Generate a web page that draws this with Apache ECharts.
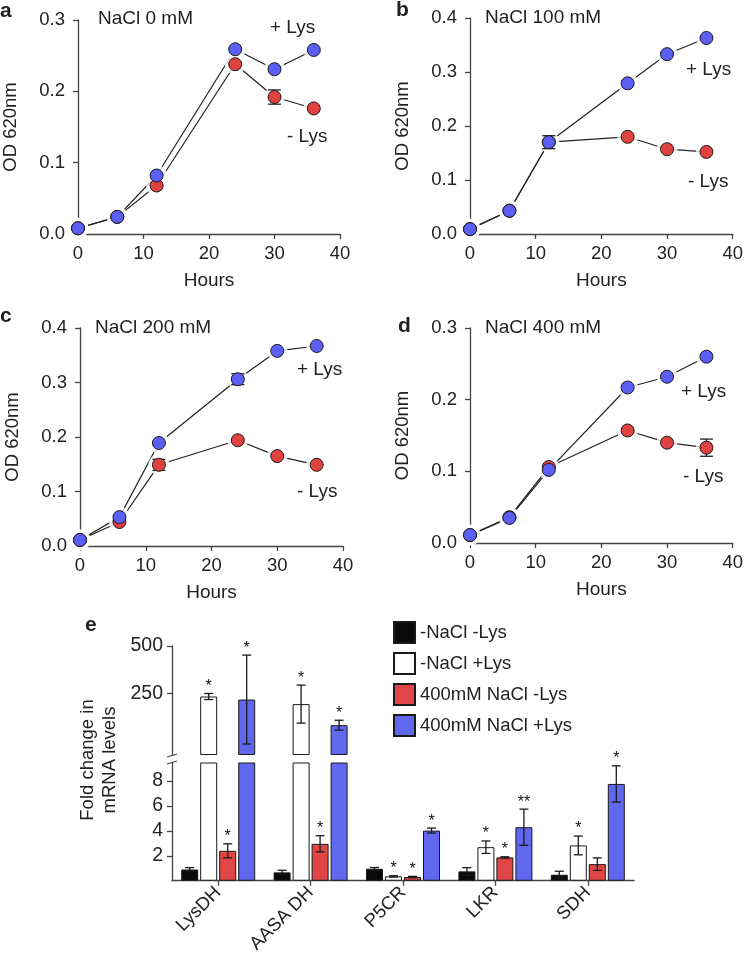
<!DOCTYPE html>
<html><head><meta charset="utf-8">
<script src="https://cdn.jsdelivr.net/npm/echarts@6/dist/echarts.min.js"></script>
<style>html,body{margin:0;padding:0;background:#fff}#c{width:746px;height:956px}</style>
</head><body><div id="c"></div>
<script>
// ---------- DATA ----------
const hours = [0, 6, 12, 24, 30, 36];

const aPlusLys  = [0.008, 0.024, 0.082, 0.259, 0.231, 0.258];
const aMinusLys = [0.008, 0.024, 0.068, 0.238, 0.192, 0.176];
const aPlusErr  = [0, 0, 0, 0, 0, 0];
const aMinusErr = [0, 0, 0, 0, 0.010, 0];

const bPlusLys  = [0.009, 0.043, 0.170, 0.279, 0.333, 0.363];
const bMinusLys = [0.009, 0.043, 0.170, 0.180, 0.157, 0.152];
const bPlusErr  = [0, 0, 0.012, 0, 0, 0];
const bMinusErr = [0, 0, 0, 0, 0, 0];

const cPlusLys  = [0.011, 0.053, 0.189, 0.306, 0.358, 0.367];
const cMinusLys = [0.011, 0.044, 0.149, 0.194, 0.165, 0.149];
const cPlusErr  = [0, 0, 0, 0.010, 0, 0];
const cMinusErr = [0, 0, 0.010, 0, 0, 0];

const dPlusLys  = [0.011, 0.035, 0.102, 0.217, 0.232, 0.260];
const dMinusLys = [0.011, 0.036, 0.106, 0.157, 0.140, 0.133];
const dPlusErr  = [0, 0, 0, 0, 0, 0];
const dMinusErr = [0, 0, 0, 0, 0, 0.012];

const panelTitles = ['NaCl 0 mM', 'NaCl 100 mM', 'NaCl 200 mM', 'NaCl 400 mM'];
const panelYMax = [0.3, 0.4, 0.4, 0.3];

const genes = ['LysDH', 'AASA DH', 'P5CR', 'LKR', 'SDH'];
const barNames = ['-NaCl -Lys', '-NaCl +Lys', '400mM NaCl -Lys', '400mM NaCl +Lys'];
const noSaltNoLys   = [0.90, 0.67, 0.96, 0.75, 0.48];
const noSaltNoLysErr= [0.15, 0.17, 0.10, 0.30, 0.28];
const noSaltLys     = [234, 194, 0.35, 2.69, 2.83];
const noSaltLysErr  = [16, 100, 0.05, 0.50, 0.75];
const saltNoLys     = [2.40, 2.96, 0.30, 1.87, 1.33];
const saltNoLysErr  = [0.56, 0.65, 0.05, 0.05, 0.50];
const saltLys       = [218, 83, 4.02, 4.29, 7.76];
const saltLysErr    = [234, 26, 0.20, 1.45, 1.45];
const barStars = [
  ['', '', '', '', ''],
  ['*', '*', '*', '*', '*'],
  ['*', '*', '*', '*', ''],
  ['*', '*', '*', '**', '*']
];
const lowerTicks = [2, 4, 6, 8];
const upperTicks = [250, 500];

// ---------- STYLE ----------
const FONT = 'Liberation Sans, Arial, Helvetica, sans-serif';
const BLUE = '#5b5ff4', RED = '#e0433f';
const BAR_COLORS = ['#0a0a0a', '#ffffff', '#e04646', '#6068f0'];
const AXIS = '#444', TXT = '#222';
const BAR_W = 17, BAR_GAP = 2;
const LOWER_MAX = 9.44, UPPER_MIN = -74;
const FS = 18.5;

const panels = [
  [aPlusLys, aMinusLys, aPlusErr, aMinusErr],
  [bPlusLys, bMinusLys, bPlusErr, bMinusErr],
  [cPlusLys, cMinusLys, cPlusErr, cMinusErr],
  [dPlusLys, dMinusLys, dPlusErr, dMinusErr]
];
const panelGrids = [
  {left: 77, top: 20, width: 263, height: 214},
  {left: 470, top: 18, width: 263, height: 216},
  {left: 80, top: 328, width: 263, height: 218},
  {left: 470, top: 328, width: 263, height: 215}
];

const grid = panelGrids.concat([
  {left: 172, top: 646, width: 462, height: 109},
  {left: 172, top: 763, width: 462, height: 118}
]);

const xAxis = [], yAxis = [], series = [];
const lbl = {fontFamily: FONT, fontSize: FS, color: TXT};

panels.forEach((p, gi) => {
  xAxis.push({
    type: 'value', gridIndex: gi, min: 0, max: 40, interval: 10,
    name: 'Hours', nameLocation: 'middle', nameGap: 37,
    nameTextStyle: {fontFamily: FONT, fontSize: 19, color: TXT},
    axisLine: {show: true, onZero: false, lineStyle: {color: AXIS, width: 1.3}},
    axisTick: {show: true, length: 5, lineStyle: {color: AXIS, width: 1.3}},
    axisLabel: Object.assign({margin: 10}, lbl),
    splitLine: {show: false}
  });
  yAxis.push({
    type: 'value', gridIndex: gi, min: 0, max: panelYMax[gi], interval: 0.1,
    name: 'OD 620nm', nameLocation: 'middle', nameGap: 58,
    nameTextStyle: {fontFamily: FONT, fontSize: 18.5, color: TXT},
    axisLine: {show: true, lineStyle: {color: AXIS, width: 1.3}},
    axisTick: {show: true, length: 5, lineStyle: {color: AXIS, width: 1.3}},
    axisLabel: Object.assign({margin: 13, formatter: v => v.toFixed(1)}, lbl),
    splitLine: {show: false}
  });
  const [plus, minus, plusErr, minusErr] = p;
  const pts = arr => hours.map((h, i) => [h, arr[i]]);
  const base = {xAxisIndex: gi, yAxisIndex: gi, silent: true, animation: false};
  [plus, minus].forEach(arr => series.push(Object.assign({
    type: 'line', data: pts(arr), symbol: 'none',
    lineStyle: {color: '#222', width: 1.2}, z: 2
  }, base)));
  [minus, plus].forEach(arr => series.push(Object.assign({
    type: 'scatter', data: pts(arr), symbolSize: 21,
    itemStyle: {color: '#fff'}, z: 3
  }, base)));
  const errData = [];
  hours.forEach((h, i) => {
    if (minusErr[i] > 0) errData.push([h, minus[i], minusErr[i]]);
    if (plusErr[i] > 0) errData.push([h, plus[i], plusErr[i]]);
  });
  series.push(Object.assign({
    type: 'custom', data: errData, z: 4,
    renderItem(params, api) {
      const x = api.value(0), y = api.value(1), e = api.value(2);
      const t = api.coord([x, y + e]), b = api.coord([x, y - e]);
      const st = {stroke: '#222', lineWidth: 1.3};
      return {type: 'group', children: [
        {type: 'line', shape: {x1: t[0], y1: t[1], x2: b[0], y2: b[1]}, style: st},
        {type: 'line', shape: {x1: t[0] - 6.5, y1: t[1], x2: t[0] + 6.5, y2: t[1]}, style: st},
        {type: 'line', shape: {x1: b[0] - 6.5, y1: b[1], x2: b[0] + 6.5, y2: b[1]}, style: st}
      ]};
    }
  }, base));
  series.push(Object.assign({
    type: 'scatter', data: pts(minus), symbolSize: 13,
    itemStyle: {color: RED, borderColor: '#1a1a1a', borderWidth: 1, opacity: 1}, z: 5
  }, base));
  series.push(Object.assign({
    type: 'scatter', data: pts(plus), symbolSize: 13,
    itemStyle: {color: BLUE, borderColor: '#1a1a1a', borderWidth: 1, opacity: 1}, z: 6
  }, base));
});

// ---------- Panel e (broken axis) ----------
xAxis.push({
  type: 'category', gridIndex: 4, data: genes, show: false
});
xAxis.push({
  type: 'category', gridIndex: 5, data: genes,
  axisLine: {show: true, lineStyle: {color: AXIS, width: 1.3}},
  axisTick: {show: true, alignWithLabel: true, length: 5, lineStyle: {color: AXIS, width: 1.3}},
  axisLabel: Object.assign({rotate: 45, margin: 9}, lbl)
});
yAxis.push({
  type: 'value', gridIndex: 4, min: UPPER_MIN, max: 500, startValue: UPPER_MIN,
  axisLine: {show: true, lineStyle: {color: AXIS, width: 1.3}},
  axisTick: {show: true, length: 5, customValues: upperTicks, lineStyle: {color: AXIS, width: 1.3}},
  axisLabel: Object.assign({margin: 9, customValues: upperTicks}, lbl, {fontSize: 19.5}),
  splitLine: {show: false}
});
yAxis.push({
  type: 'value', gridIndex: 5, min: 0, max: LOWER_MAX,
  axisLine: {show: true, lineStyle: {color: AXIS, width: 1.3}},
  axisTick: {show: true, length: 5, customValues: lowerTicks, lineStyle: {color: AXIS, width: 1.3}},
  axisLabel: Object.assign({margin: 9, customValues: lowerTicks}, lbl, {fontSize: 19.5}),
  splitLine: {show: false}
});

const barVals = [noSaltNoLys, noSaltLys, saltNoLys, saltLys];
const barErrs = [noSaltNoLysErr, noSaltLysErr, saltNoLysErr, saltLysErr];

barVals.forEach((vals, k) => {
  const common = {
    type: 'bar', name: barNames[k], barWidth: BAR_W, barGap: (BAR_GAP / BAR_W * 100) + '%',
    itemStyle: {color: BAR_COLORS[k], borderColor: '#1a1a1a', borderWidth: 1},
    animation: false, silent: true, clip: true
  };
  series.push(Object.assign({}, common, {
    xAxisIndex: 4, yAxisIndex: 4,
    data: vals.map(v => v > LOWER_MAX ? v : '-')
  }));
  series.push(Object.assign({}, common, {
    xAxisIndex: 5, yAxisIndex: 5, data: vals.slice()
  }));
});

function errSeries(k, upper) {
  const gi = upper ? 4 : 5;
  const data = [];
  barVals[k].forEach((v, i) => {
    if ((v > LOWER_MAX) === upper) data.push([i, v, barErrs[k][i]]);
  });
  return {
    type: 'custom', xAxisIndex: gi, yAxisIndex: gi, data, silent: true, animation: false, z: 8,
    renderItem(params, api) {
      const i = api.value(0), v = api.value(1), e = api.value(2);
      const c = api.coord([i, v]);
      const x = c[0] + (k - 1.5) * (BAR_W + BAR_GAP);
      const yT = api.coord([i, v + e])[1], yB = api.coord([i, v - e])[1];
      const st = {stroke: '#1a1a1a', lineWidth: 1.3};
      const ch = [];
      if (e > 0) {
        ch.push({type: 'line', shape: {x1: x, y1: yT, x2: x, y2: yB}, style: st});
        ch.push({type: 'line', shape: {x1: x - 4.5, y1: yT, x2: x + 4.5, y2: yT}, style: st});
        ch.push({type: 'line', shape: {x1: x - 4.5, y1: yB, x2: x + 4.5, y2: yB}, style: st});
      }
      const s = barStars[k][i];
      if (s) ch.push({type: 'text', style: {
        text: s, x: x, y: yT - 7, align: 'center', verticalAlign: 'middle',
        font: '16px ' + FONT, fill: '#111'
      }});
      return {type: 'group', children: ch};
    }
  };
}
for (let k = 0; k < 4; k++) { series.push(errSeries(k, true)); series.push(errSeries(k, false)); }

// ---------- text annotations ----------
const txt = (text, x, y, extra) => ({type: 'text', x, y, silent: true, style: Object.assign({
  text, fill: TXT, font: '19px ' + FONT, verticalAlign: 'middle', align: 'left'
}, extra || {})});
const bold = (t, x, y) => txt(t, x, y, {font: 'bold 21px ' + FONT});

const graphic = [
  bold('a', 0, 11), bold('b', 396, 10), bold('c', 0, 316), bold('d', 398, 326), bold('e', 85, 625),
  txt(panelTitles[0], 98, 19), txt('+ Lys', 270, 28), txt('- Lys', 287, 137),
  txt(panelTitles[1], 485, 18), txt('+ Lys', 686, 70), txt('- Lys', 688, 182),
  txt(panelTitles[2], 95, 328), txt('+ Lys', 297, 370), txt('- Lys', 297, 492),
  txt(panelTitles[3], 485, 328), txt('+ Lys', 681, 392), txt('- Lys', 683, 477),
  {type: 'text', x: 99, y: 760, rotation: Math.PI / 2, silent: true, style: {
    text: 'Fold change in\nmRNA levels', fill: TXT, font: '18.5px ' + FONT,
    align: 'center', verticalAlign: 'middle', lineHeight: 22
  }},
  {type: 'line', silent: true, shape: {x1: 167, y1: 757, x2: 177, y2: 754}, style: {stroke: AXIS, lineWidth: 1.3}},
  {type: 'line', silent: true, shape: {x1: 167, y1: 764, x2: 177, y2: 761}, style: {stroke: AXIS, lineWidth: 1.3}}
];

const chart = echarts.init(document.getElementById('c'), null, {renderer: 'canvas'});
chart.setOption({
  animation: false,
  backgroundColor: '#fff',
  grid, xAxis, yAxis, series, graphic,
  legend: {
    data: barNames, orient: 'vertical', left: 393, top: 621, padding: 0,
    itemWidth: 21, itemHeight: 21, itemGap: 8, icon: 'rect',
    selectedMode: false,
    textStyle: {fontFamily: FONT, fontSize: 18.5, color: TXT}
  }
});
</script></body></html>
